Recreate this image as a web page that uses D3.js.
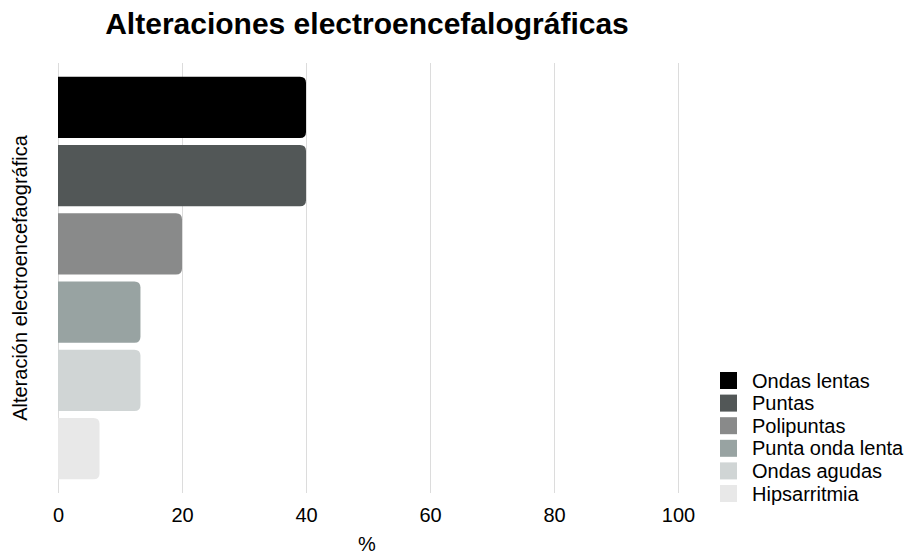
<!DOCTYPE html>
<html>
<head>
<meta charset="utf-8">
<script src="https://cdn.jsdelivr.net/npm/d3@7"></script>
<style>
  html, body { margin: 0; padding: 0; background: #fff; }
  svg { display: block; font-family: "Liberation Sans", Arial, Helvetica, sans-serif; }
</style>
</head>
<body>
<svg id="chart" width="911" height="556"></svg>
<script>
// EEG alteration categories and their share (%)
const categories = ["Ondas lentas", "Puntas", "Polipuntas", "Punta onda lenta", "Ondas agudas", "Hipsarritmia"];
const values = [40, 40, 20, 13.3, 13.3, 6.7];
const colors = ["#000000", "#525757", "#898a8a", "#98a3a2", "#d0d5d5", "#e8e8e8"];
const xTicks = [0, 20, 40, 60, 80, 100];

const svg = d3.select("#chart");
const plot = { left: 58, right: 678, top: 63, bottom: 493 };

const x = d3.scaleLinear().domain([0, 100]).range([plot.left, plot.right]);
const y = d3.scaleBand().domain(categories).range([plot.top, plot.bottom])
  .paddingInner(0.1).paddingOuter(0.2);

// Title
svg.append("text")
  .attr("x", 367).attr("y", 34)
  .attr("text-anchor", "middle")
  .attr("font-size", 30).attr("font-weight", "bold")
  .attr("fill", "#000")
  .text("Alteraciones electroencefalográficas");

// Vertical gridlines
svg.append("g").selectAll("line").data(xTicks).join("line")
  .attr("x1", d => x(d)).attr("x2", d => x(d))
  .attr("y1", plot.top).attr("y2", plot.bottom)
  .attr("stroke", "#dcdcdc").attr("stroke-width", 1)
  .attr("shape-rendering", "crispEdges");

// Bars with rounded right end
const r = 6;
function barPath(d, i) {
  const x0 = x(0), x1 = x(d), y0 = y(categories[i]), h = y.bandwidth();
  const rr = Math.min(r, (x1 - x0) / 2, h / 2);
  return `M${x0},${y0}H${x1 - rr}Q${x1},${y0} ${x1},${y0 + rr}` +
         `V${y0 + h - rr}Q${x1},${y0 + h} ${x1 - rr},${y0 + h}H${x0}Z`;
}
svg.append("g").selectAll("path").data(values).join("path")
  .attr("d", (d, i) => barPath(d, i))
  .attr("fill", (d, i) => colors[i]);

// X axis tick labels
const xAxis = d3.axisBottom(x).tickValues(xTicks).tickSize(0).tickPadding(0).tickFormat(d3.format("d"));
const gx = svg.append("g").attr("transform", `translate(0,${plot.bottom})`).call(xAxis);
gx.select(".domain").remove();
gx.selectAll("text")
  .attr("font-family", "\"Liberation Sans\", Arial, Helvetica, sans-serif")
  .attr("font-size", 20).attr("fill", "#000")
  .attr("dy", 0).attr("y", 29);

// Axis titles
svg.append("text")
  .attr("x", 367).attr("y", 551)
  .attr("text-anchor", "middle")
  .attr("font-size", 20).attr("fill", "#000")
  .text("%");

svg.append("text")
  .attr("transform", "translate(27,278) rotate(-90)")
  .attr("text-anchor", "middle")
  .attr("font-size", 20).attr("fill", "#000")
  .text("Alteración electroencefaográfica");

// Legend
const legend = svg.append("g").attr("transform", "translate(720,372)");
const rowH = 22.6;
const items = legend.selectAll("g").data(categories).join("g")
  .attr("transform", (d, i) => `translate(0,${i * rowH})`);
items.append("rect")
  .attr("width", 17).attr("height", 17)
  .attr("fill", (d, i) => colors[i]);
items.append("text")
  .attr("x", 32).attr("y", 15.5)
  .attr("font-size", 20).attr("fill", "#000")
  .text(d => d);
</script>
</body>
</html>
